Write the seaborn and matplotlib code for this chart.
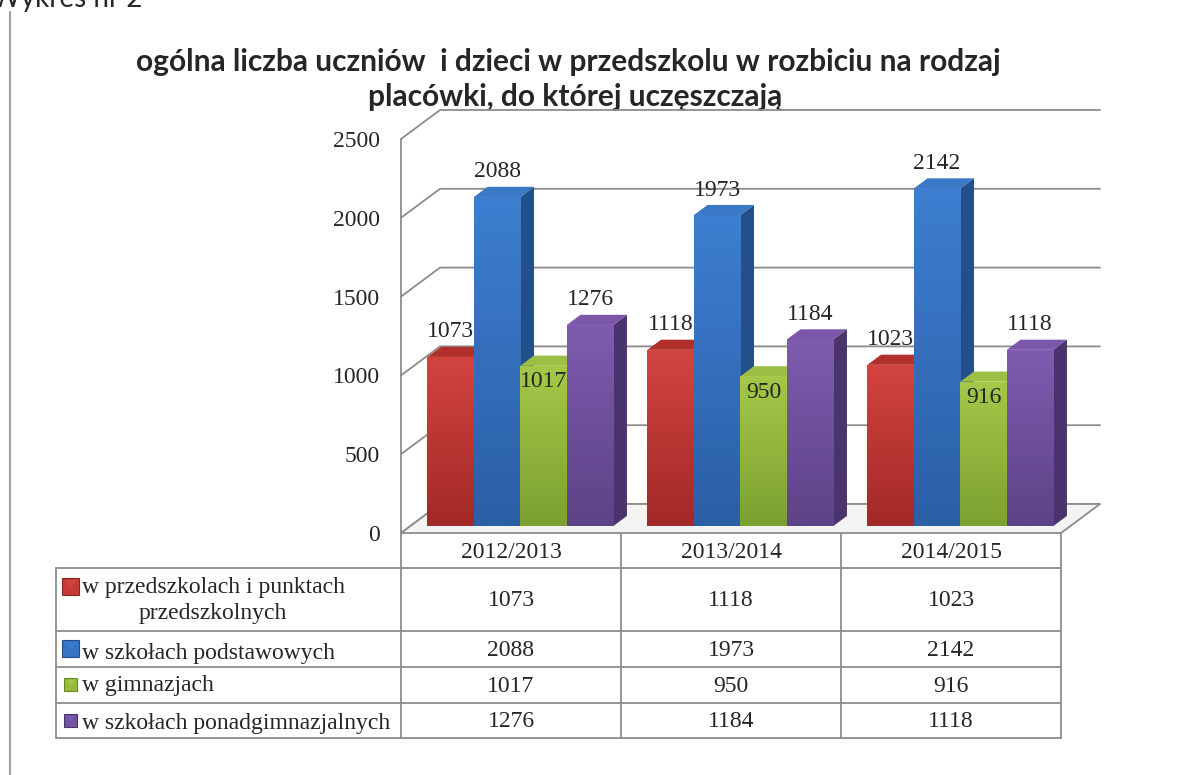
import numpy as np
import pandas as pd
import matplotlib
matplotlib.use("Agg")
import matplotlib.pyplot as plt
import seaborn as sns
from matplotlib.patches import Polygon, Rectangle
from matplotlib.colors import to_rgb

# ---------------- data ----------------
years = ["2012/2013", "2013/2014", "2014/2015"]
series = ["w przedszkolach i punktach przedszkolnych",
          "w szkołach podstawowych",
          "w gimnazjach",
          "w szkołach ponadgimnazjalnych"]
przedszkola = [1073, 1118, 1023]
podstawowe = [2088, 1973, 2142]
gimnazja = [1017, 950, 916]
ponadgimnazjalne = [1276, 1184, 1118]
yticks = [0, 500, 1000, 1500, 2000, 2500]
title_line1 = "ogólna liczba uczniów  i dzieci w przedszkolu w rozbiciu na rodzaj"
title_line2 = "placówki, do której uczęszczają"
caption = "Wykres nr 2"

values = [przedszkola, podstawowe, gimnazja, ponadgimnazjalne]
df = pd.DataFrame({
    "rok": [y for _ in series for y in years],
    "seria": [s for s in series for _ in years],
    "liczba": [v for vals in values for v in vals],
})

# ---------------- style ----------------
front_cols = ["#C43B36", "#3574C4", "#96BA3E", "#7452A2"]
grad_top = ["#D3443F", "#3D7ED0", "#A4C848", "#7E5BAF"]
grad_bot = ["#A22927", "#2B5FA6", "#7DA131", "#5D4387"]
side_cols = ["#8C2422", "#234F8A", "#6A8A26", "#4A346E"]
top_cols = ["#B2302C", "#3B78C6", "#9CC043", "#7A57A8"]
grid_col = "#8C8C8C"
serif = ["Liberation Serif", "DejaVu Serif"]
sans = ["Lato", "DejaVu Sans"]

sns.set_theme(style="white")
plt.rcParams["font.family"] = serif

W, H = 1182, 775
fig = plt.figure(figsize=(W / 100, H / 100), dpi=100)

ov = fig.add_axes([0, 0, 1, 1], zorder=0)
ov.set_xlim(0, W)
ov.set_ylim(H, 0)
ov.axis("off")

X0, X1, Y0, Y1 = 401, 1061, 533, 139
ax = fig.add_axes([X0 / W, 1 - Y0 / H, (X1 - X0) / W, (Y0 - Y1) / H], zorder=1)
ax.patch.set_alpha(0)

px_x = (X1 - X0) / 3.0
px_y = (Y0 - Y1) / 2500.0
DX = 39 / px_x
DY = 29 / px_y

for v in yticks:
    ax.plot([-0.5, -0.5 + DX, 2.5 + DX], [v, v + DY, v + DY],
            color=grid_col, lw=1.3, zorder=1, clip_on=False)
ax.plot([-0.5, -0.5], [0, 2500], color=grid_col, lw=1.3, zorder=1, clip_on=False)

floor = Polygon([(-0.5, 0), (2.5, 0), (2.5 + DX, DY), (-0.5 + DX, DY)],
                closed=True, facecolor="#F4F4F4", edgecolor=grid_col, lw=1.3,
                zorder=1.5, clip_on=False)
ax.add_patch(floor)

sns.barplot(data=df, x="rok", y="liczba", hue="seria", order=years,
            hue_order=series, palette=front_cols, saturation=1, width=0.845,
            ax=ax, legend=False, linewidth=0, edgecolor="none")

d1, bd = 0.24, 0.35
sx, sy = d1 * DX, d1 * DY
for k, cont in enumerate(ax.containers):
    ctop, cbot = np.array(to_rgb(grad_top[k])), np.array(to_rgb(grad_bot[k]))
    t = np.linspace(0, 1, 64)[:, None]
    grad = (ctop * (1 - t) + cbot * t)[:, None, :]
    for j, bar in enumerate(cont):
        x0, w, h = bar.get_x(), bar.get_width(), bar.get_height()
        zb = 3 + k * 0.1
        bar.set_x(x0 + sx)
        bar.set_y(sy)
        bar.set_zorder(zb + 0.02)
        bar.set_clip_on(False)
        xl, xr = x0 + sx, x0 + sx + w
        im = ax.imshow(grad, extent=[xl, xr, sy, sy + h], origin="upper",
                       aspect="auto", zorder=zb + 0.03, interpolation="bilinear")
        im.set_clip_path(bar)
        side = Polygon([(xr, sy), (xr + bd * DX, sy + bd * DY),
                        (xr + bd * DX, sy + h + bd * DY), (xr, sy + h)],
                       closed=True, facecolor=side_cols[k], edgecolor="none",
                       zorder=zb, clip_on=False)
        top = Polygon([(xl, sy + h), (xr, sy + h), (xr + bd * DX, sy + h + bd * DY),
                       (xl + bd * DX, sy + h + bd * DY)],
                      closed=True, facecolor=top_cols[k], edgecolor="none",
                      zorder=zb + 0.01, clip_on=False)
        ax.add_patch(side)
        ax.add_patch(top)
        off = -11.5 if k == 2 else 18
        ax.annotate(f"{int(h)}", xy=(xl + w / 2, sy + h), xytext=(0, off),
                    textcoords="offset points", ha="center", va="center",
                    fontsize=17, family=serif, zorder=10, annotation_clip=False)

ax.set_xlim(-0.5, 2.5)
ax.set_ylim(0, 2500)
ax.set_xticks([])
ax.set_xlabel("")
ax.set_ylabel("")
ax.set_yticks(yticks)
ax.set_yticklabels([str(v) for v in yticks], fontsize=17, family=serif)
ax.tick_params(axis="y", length=0, pad=15)
for s in ax.spines.values():
    s.set_visible(False)

# ---------------- data table ----------------
col_edges = [X0 + (X1 - X0) * i / 3 for i in range(4)]
row_edges = [568, 631, 667, 703, 738]
TL = 56
lc = dict(color=grid_col, lw=1.3)
ov.plot([X0, X0], [Y0, row_edges[-1]], **lc)
for xe in col_edges[1:]:
    ov.plot([xe, xe], [Y0, row_edges[-1]], **lc)
ov.plot([TL, TL], [row_edges[0], row_edges[-1]], **lc)
for ye in row_edges:
    ov.plot([TL, X1], [ye, ye], **lc)

for i, y in enumerate(years):
    cx = (col_edges[i] + col_edges[i + 1]) / 2
    ov.text(cx, 553, y, ha="center", va="center", fontsize=17, family=serif)
    for r in range(4):
        cy = (row_edges[r] + row_edges[r + 1]) / 2
        ov.text(cx, cy + 1, str(values[r][i]), ha="center", va="center",
                fontsize=17, family=serif)

marker_specs = [(62, 578, 17), (62, 640, 17), (64, 678, 13), (64, 714, 13)]
for r, (mx, my, ms) in enumerate(marker_specs):
    ov.add_patch(Rectangle((mx, my), ms, ms, facecolor=front_cols[r],
                           edgecolor=side_cols[r], lw=0.8))
    ov.add_patch(Polygon([(mx + 2, my + 2), (mx + ms - 2, my + 2), (mx + ms / 2, my + ms * 0.6)],
                         closed=True, facecolor=grad_top[r], edgecolor="none", alpha=0.9))
ov.text(82, 587, "w przedszkolach i punktach", ha="left", va="center", fontsize=17, family=serif)
ov.text(213, 613, "przedszkolnych", ha="center", va="center", fontsize=17, family=serif)
ov.text(82, 654, series[1], ha="left", va="center", fontsize=17, family=serif)
ov.text(82, 686, series[2], ha="left", va="center", fontsize=17, family=serif)
ov.text(82, 724, series[3], ha="left", va="center", fontsize=17, family=serif)

# ---------------- title, caption, frame line ----------------
ov.text(568, 71, title_line1, ha="center", va="baseline", fontsize=21.5,
        fontweight="bold", family=sans)
ov.text(575, 106, title_line2, ha="center", va="baseline", fontsize=21.5,
        fontweight="bold", family=sans)
ov.text(-8, 7, caption, ha="left", va="baseline", fontsize=20, family=sans)
ov.plot([10, 10], [12, H], color="#A0A0A0", lw=1.5)

fig.savefig("out.png", dpi=100)
